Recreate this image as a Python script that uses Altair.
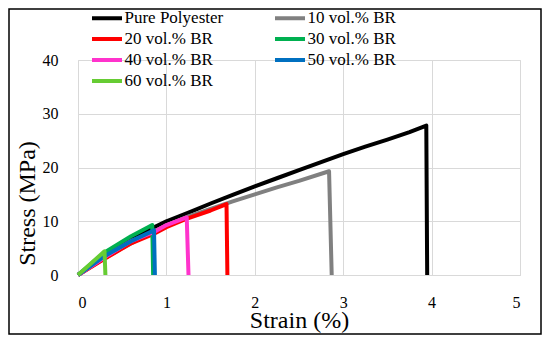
import altair as alt
import pandas as pd

series_names = ["Pure Polyester", "10 vol.% BR", "20 vol.% BR", "30 vol.% BR",
                "40 vol.% BR", "50 vol.% BR", "60 vol.% BR"]
series_colors = ["#000000", "#808080", "#FF0000", "#00B050", "#FF33CC", "#0070C0", "#66CC33"]

pure_strain = [0, 0.25, 0.5, 0.75, 1.0, 1.25, 1.5, 1.75, 2.0, 2.25, 2.5, 2.75, 3.0, 3.25, 3.5, 3.75, 3.94, 3.95]
pure_stress = [0, 2.9, 5.6, 8.0, 10.0, 11.6, 13.3, 14.9, 16.5, 18.0, 19.5, 21.0, 22.5, 23.9, 25.2, 26.6, 27.8, 0]

br10_strain = [0, 0.25, 0.5, 0.75, 1.0, 1.25, 1.5, 1.75, 2.0, 2.25, 2.5, 2.84, 2.87]
br10_stress = [0, 2.6, 5.0, 7.2, 9.2, 10.9, 12.3, 13.7, 15.0, 16.3, 17.5, 19.3, 0]

br20_strain = [0, 0.3, 0.6, 0.85, 1.0, 1.25, 1.5, 1.68, 1.69]
br20_stress = [0, 3.0, 5.9, 7.6, 8.9, 10.6, 12.0, 13.2, 0]

br30_strain = [0, 0.3, 0.6, 0.84, 0.85]
br30_stress = [0, 4.2, 7.2, 9.3, 0]

br40_strain = [0, 0.3, 0.6, 0.86, 1.0, 1.23, 1.25]
br40_stress = [0, 3.3, 6.3, 8.0, 9.3, 10.7, 0]

br50_strain = [0, 0.3, 0.6, 0.86, 0.87]
br50_stress = [0, 3.5, 6.3, 8.3, 0]

br60_strain = [0, 0.30, 0.31]
br60_stress = [0, 4.4, 0]

x_ticks = [0, 1, 2, 3, 4, 5]
y_ticks = [0, 10, 20, 30, 40]

all_strain = [pure_strain, br10_strain, br20_strain, br30_strain, br40_strain, br50_strain, br60_strain]
all_stress = [pure_stress, br10_stress, br20_stress, br30_stress, br40_stress, br50_stress, br60_stress]

rows = []
for name, xs, ys in zip(series_names, all_strain, all_stress):
    for i, (xv, yv) in enumerate(zip(xs, ys)):
        rows.append({"series": name, "strain": xv, "stress": yv, "idx": i})
df = pd.DataFrame(rows)

FONT = "Liberation Serif"

color_scale = alt.Scale(domain=series_names, range=series_colors)

x_enc = alt.X("strain:Q", scale=alt.Scale(domain=[0, 5], nice=False),
              axis=alt.Axis(values=x_ticks, title="Strain (%)", format="d",
                            grid=True, gridColor="#D9D9D9", domain=True, domainColor="#D9D9D9",
                            ticks=False, labelPadding=19, labelFontSize=16, labelFont=FONT,
                            labelColor="black", titleFont=FONT, titleFontSize=24,
                            titleFontWeight="normal", titleColor="black", titleY=33,
                            titleBaseline="top"))
y_enc = alt.Y("stress:Q", scale=alt.Scale(domain=[0, 40], nice=False),
              axis=alt.Axis(values=y_ticks, title="Stress (MPa)", format="d",
                            grid=True, gridColor="#D9D9D9", domain=False,
                            ticks=False, labelPadding=20, labelFontSize=16, labelFont=FONT,
                            labelColor="black", titleFont=FONT, titleFontSize=24,
                            titleFontWeight="normal", titleColor="black",
                            titleX=-39, titleY=143, titleAngle=270, titleBaseline="bottom",
                            titleAlign="center"))

layers = []
for k, name in enumerate(series_names):
    enc = dict(x=x_enc, y=y_enc, order="idx:Q")
    if k == 0:
        legend = alt.Legend(title=None, orient="none", legendX=20.5, legendY=-50.5, columns=2,
                            direction="horizontal",
                            symbolType="M-3,0H3", symbolSize=100, symbolStrokeWidth=4,
                            labelFont=FONT, labelFontSize=17, labelColor="black",
                            labelOffset=9, columnPadding=43, rowPadding=3, padding=0,
                            labelLimit=300)
        enc["color"] = alt.Color("series:N", scale=color_scale, legend=legend)
    else:
        enc["color"] = alt.Color("series:N", scale=color_scale)
    layers.append(
        alt.Chart(df).transform_filter(alt.datum.series == name)
        .mark_line(strokeWidth=4, strokeJoin="round", clip=False)
        .encode(**enc)
    )

border = alt.Chart(alt.Data(values=[{"a": 1}])).mark_rect(
    fillOpacity=0, stroke="black", strokeWidth=1.5, clip=False
).encode(x=alt.value(-69), x2=alt.value(463), y=alt.value(-51), y2=alt.value(274))

chart = alt.layer(*layers, border).properties(
    width=442, height=215,
    autosize=alt.AutoSizeParams(type="none"),
    padding={"left": 70, "top": 52, "right": 22, "bottom": 60},
).configure_view(stroke=None).configure(background="white")

chart.save("out.html", embed_options={"renderer": "svg", "actions": False})
